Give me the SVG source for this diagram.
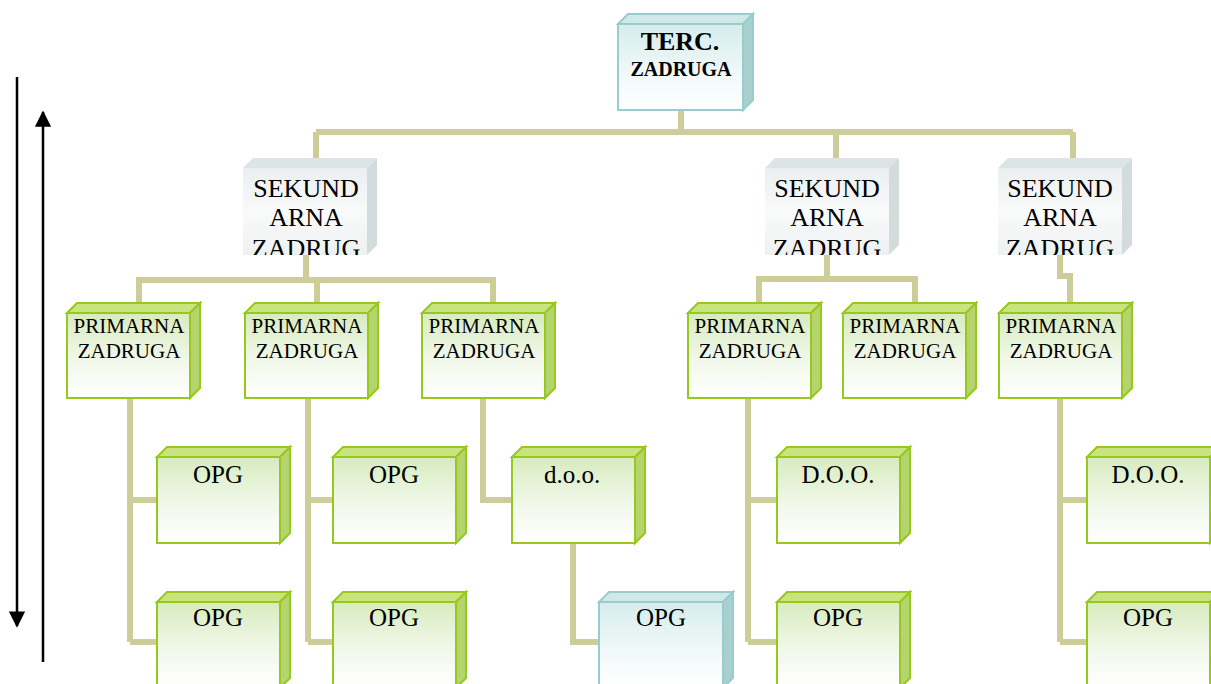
<svg xmlns="http://www.w3.org/2000/svg" width="1211" height="684" viewBox="0 0 1211 684">
<defs>
<linearGradient id="gGreen" x1="0" y1="0" x2="0" y2="1"><stop offset="0" stop-color="#D8EBBE"/><stop offset="0.55" stop-color="#F1F8EA"/><stop offset="1" stop-color="#FFFFFF"/></linearGradient>
<linearGradient id="gTeal" x1="0" y1="0" x2="0" y2="1"><stop offset="0" stop-color="#D6ECEC"/><stop offset="0.6" stop-color="#F2F9F9"/><stop offset="1" stop-color="#FFFFFF"/></linearGradient>
<linearGradient id="gGray" x1="0" y1="0" x2="0" y2="1"><stop offset="0" stop-color="#EBEFF0"/><stop offset="0.5" stop-color="#F9FAFA"/><stop offset="1" stop-color="#EEF1F2"/></linearGradient>
<marker id="ah" viewBox="0 0 10 10" refX="9" refY="5" markerWidth="6.5" markerHeight="6.5" orient="auto" markerUnits="strokeWidth"><path d="M0,0 L10,5 L0,10 z" fill="#000"/></marker>
<clipPath id="cS1"><rect x="243" y="150" width="140" height="105"/></clipPath>
<clipPath id="cS2"><rect x="765" y="150" width="140" height="105"/></clipPath>
<clipPath id="cS3"><rect x="998" y="150" width="140" height="105"/></clipPath>
</defs>
<style>
.con{fill:none;stroke:#CDCD9A;stroke-width:6;stroke-linejoin:miter}
.gf{fill:url(#gGreen);stroke:#96C81E;stroke-width:2}
.gt{fill:#C9E47F;stroke:#96C81E;stroke-width:2}
.gs{fill:#B6D46E;stroke:#96C81E;stroke-width:2}
.tf{fill:url(#gTeal);stroke:#99CDCD;stroke-width:2}
.tt{fill:#CFE9E9;stroke:#99CDCD;stroke-width:2}
.ts{fill:#A9CFCF;stroke:#99CDCD;stroke-width:2}
.sf{fill:url(#gGray);stroke:none}
.st{fill:#DDE4E6;stroke:none}
.ss{fill:#D3DBDD;stroke:none}
text{font-family:"Liberation Serif","Times New Roman",serif;fill:#000;text-anchor:middle}
.big{font-size:26px}
.mid{font-size:21px}
.opg{font-size:25px}
.arr{stroke:#000;stroke-width:2.5;fill:none}
</style>
<g id="arrows">
<line class="arr" x1="17" y1="77" x2="17" y2="626" marker-end="url(#ah)"/>
<line class="arr" x1="43" y1="662" x2="43" y2="112" marker-end="url(#ah)"/>
</g>
<g id="connectors">
<path class="con" d="M681,110 V132 M316,132 H1073 M316,132 V160 M836,132 V160 M1073,132 V160"/>
<path class="con" d="M306,255 V280 M136,280 H496 M139,280 V305 M317,280 V305 M493,280 V305"/>
<path class="con" d="M827,255 V279 M756,279 H918 M759,279 V305 M915,279 V305"/>
<path class="con" d="M1060,255 V276 H1070 V305"/>
<path class="con" d="M130,398 V642 M130,500 H158 M130,642 H158"/>
<path class="con" d="M308,398 V642 M308,500 H334 M308,642 H334"/>
<path class="con" d="M483,398 V500 H513"/>
<path class="con" d="M573,543 V642 H601"/>
<path class="con" d="M748,398 V642 M748,500 H778 M748,642 H778"/>
<path class="con" d="M1060,398 V642 M1060,500 H1088 M1060,642 H1088"/>
</g>
<g id="terc">
<polygon class="tt" points="618,24 628,14 753,14 743,24"/>
<polygon class="ts" points="743,24 753,14 753,100 743,110"/>
<rect class="tf" x="618" y="24" width="125" height="86"/>
<text x="680" y="50" class="big" font-weight="bold">TERC.</text>
<text x="681" y="76" font-size="20" font-weight="bold">ZADRUGA</text>
</g>
<g id="sek1">
<polygon class="st" points="243,168 253,158 377,158 367,168"/>
<polygon class="ss" points="367,168 377,158 377,245 367,255"/>
<rect class="sf" x="243" y="168" width="124" height="87"/>
<g clip-path="url(#cS1)"><text x="306" y="197" class="big">SEKUND</text><text x="306" y="226" class="big">ARNA</text><text x="306" y="257" class="big">ZADRUG</text></g>
</g>
<g id="sek2">
<polygon class="st" points="765,168 775,158 899,158 889,168"/>
<polygon class="ss" points="889,168 899,158 899,245 889,255"/>
<rect class="sf" x="765" y="168" width="124" height="87"/>
<g clip-path="url(#cS2)"><text x="827" y="197" class="big">SEKUND</text><text x="827" y="226" class="big">ARNA</text><text x="827" y="257" class="big">ZADRUG</text></g>
</g>
<g id="sek3">
<polygon class="st" points="998,168 1008,158 1132,158 1122,168"/>
<polygon class="ss" points="1122,168 1132,158 1132,245 1122,255"/>
<rect class="sf" x="998" y="168" width="124" height="87"/>
<g clip-path="url(#cS3)"><text x="1060" y="197" class="big">SEKUND</text><text x="1060" y="226" class="big">ARNA</text><text x="1060" y="257" class="big">ZADRUG</text></g>
</g>
<g id="prim1"><polygon class="gt" points="67,313 77,303 200,303 190,313"/><polygon class="gs" points="190,313 200,303 200,388 190,398"/><rect class="gf" x="67" y="313" width="123" height="85"/><text x="129" y="333" class="mid">PRIMARNA</text><text x="129" y="358" class="mid">ZADRUGA</text></g>
<g id="prim2"><polygon class="gt" points="245,313 255,303 378,303 368,313"/><polygon class="gs" points="368,313 378,303 378,388 368,398"/><rect class="gf" x="245" y="313" width="123" height="85"/><text x="307" y="333" class="mid">PRIMARNA</text><text x="307" y="358" class="mid">ZADRUGA</text></g>
<g id="prim3"><polygon class="gt" points="422,313 432,303 555,303 545,313"/><polygon class="gs" points="545,313 555,303 555,388 545,398"/><rect class="gf" x="422" y="313" width="123" height="85"/><text x="484" y="333" class="mid">PRIMARNA</text><text x="484" y="358" class="mid">ZADRUGA</text></g>
<g id="prim4"><polygon class="gt" points="688,313 698,303 821,303 811,313"/><polygon class="gs" points="811,313 821,303 821,388 811,398"/><rect class="gf" x="688" y="313" width="123" height="85"/><text x="750" y="333" class="mid">PRIMARNA</text><text x="750" y="358" class="mid">ZADRUGA</text></g>
<g id="prim5"><polygon class="gt" points="843,313 853,303 976,303 966,313"/><polygon class="gs" points="966,313 976,303 976,388 966,398"/><rect class="gf" x="843" y="313" width="123" height="85"/><text x="905" y="333" class="mid">PRIMARNA</text><text x="905" y="358" class="mid">ZADRUGA</text></g>
<g id="prim6"><polygon class="gt" points="999,313 1009,303 1132,303 1122,313"/><polygon class="gs" points="1122,313 1132,303 1132,388 1122,398"/><rect class="gf" x="999" y="313" width="123" height="85"/><text x="1061" y="333" class="mid">PRIMARNA</text><text x="1061" y="358" class="mid">ZADRUGA</text></g>
<g id="opg1a"><polygon class="gt" points="157,457 167,447 290,447 280,457"/><polygon class="gs" points="280,457 290,447 290,533 280,543"/><rect class="gf" x="157" y="457" width="123" height="86"/><text x="218" y="483" class="opg">OPG</text></g>
<g id="opg2a"><polygon class="gt" points="333,457 343,447 466,447 456,457"/><polygon class="gs" points="456,457 466,447 466,533 456,543"/><rect class="gf" x="333" y="457" width="123" height="86"/><text x="394" y="483" class="opg">OPG</text></g>
<g id="doo3"><polygon class="gt" points="512,457 522,447 645,447 635,457"/><polygon class="gs" points="635,457 645,447 645,533 635,543"/><rect class="gf" x="512" y="457" width="123" height="86"/><text x="572" y="483" class="opg">d.o.o.</text></g>
<g id="doo4"><polygon class="gt" points="777,457 787,447 910,447 900,457"/><polygon class="gs" points="900,457 910,447 910,533 900,543"/><rect class="gf" x="777" y="457" width="123" height="86"/><text x="838" y="483" class="opg">D.O.O.</text></g>
<g id="doo6"><polygon class="gt" points="1087,457 1097,447 1220,447 1210,457"/><polygon class="gs" points="1210,457 1220,447 1220,533 1210,543"/><rect class="gf" x="1087" y="457" width="123" height="86"/><text x="1148" y="483" class="opg">D.O.O.</text></g>
<g id="opg1b"><polygon class="gt" points="157,602 167,592 290,592 280,602"/><polygon class="gs" points="280,602 290,592 290,678 280,688"/><rect class="gf" x="157" y="602" width="123" height="86"/><text x="218" y="626" class="opg">OPG</text></g>
<g id="opg2b"><polygon class="gt" points="333,602 343,592 466,592 456,602"/><polygon class="gs" points="456,602 466,592 466,678 456,688"/><rect class="gf" x="333" y="602" width="123" height="86"/><text x="394" y="626" class="opg">OPG</text></g>
<g id="opg3b"><polygon class="tt" points="599,602 609,592 733,592 723,602"/><polygon class="ts" points="723,602 733,592 733,678 723,688"/><rect class="tf" x="599" y="602" width="124" height="86"/><text x="661" y="626" class="opg">OPG</text></g>
<g id="opg4b"><polygon class="gt" points="777,602 787,592 910,592 900,602"/><polygon class="gs" points="900,602 910,592 910,678 900,688"/><rect class="gf" x="777" y="602" width="123" height="86"/><text x="838" y="626" class="opg">OPG</text></g>
<g id="opg6b"><polygon class="gt" points="1087,602 1097,592 1220,592 1210,602"/><polygon class="gs" points="1210,602 1220,592 1220,678 1210,688"/><rect class="gf" x="1087" y="602" width="123" height="86"/><text x="1148" y="626" class="opg">OPG</text></g>
</svg>
